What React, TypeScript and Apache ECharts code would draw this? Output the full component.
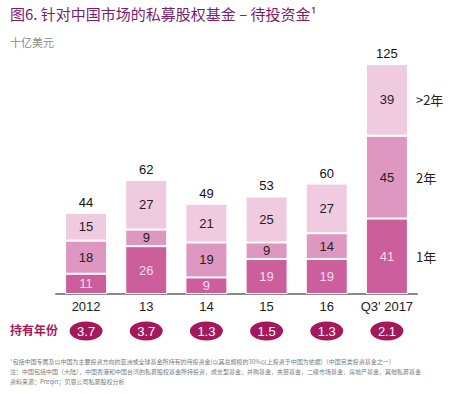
import React, { useEffect, useRef } from "react";
import * as echarts from "echarts";

const categories = ["2012", "13", "14", "15", "16", "Q3' 2017"];
const oneYear = [11, 26, 9, 19, 19, 41];
const twoYear = [18, 9, 19, 9, 14, 45];
const overTwoYear = [15, 27, 21, 25, 27, 39];
const totals = [44, 62, 49, 53, 60, 125];
const holdingYears = ["3.7", "3.7", "1.3", "1.5", "1.3", "2.1"];
const seriesNames = ["1年", "2年", ">2年"];

const title = "图6. 针对中国市场的私募股权基金 – 待投资金¹";
const unit = "十亿美元";
const holdLabel = "持有年份";
const footnotes = [
  "¹包括中国专属及以中国为主要投资方向的亚洲或全球基金所持有的待投资金(以其总规模的30%以上投资于中国为依据)（中国另类投资基金之一）",
  "注：中国包括中国（大陆），中国香港和中国台湾的私募股权基金所持投资，成长型基金，并购基金，夹层基金，二级市场基金，房地产基金，其他私募基金",
  "资料来源：Preqin；贝恩公司私募股权分析",
];

const CJK = "'Noto Sans CJK SC', 'Liberation Sans', sans-serif";
const NUM = "'Liberation Sans', Arial, sans-serif";

export default function App() {
  const ref = useRef<HTMLDivElement>(null);
  useEffect(() => {
    if (!ref.current) return;
    const chart = echarts.init(ref.current, undefined, { renderer: "svg" });
    const colors = ["#cc5f9b", "#de97c0", "#f0cbe0"];
    const segLabel = (color: string) => ({
      show: true,
      position: "inside" as const,
      color,
      fontSize: 13,
      fontFamily: NUM,
    });
    chart.setOption({
      animation: false,
      backgroundColor: "#ffffff",
      grid: [
        { left: 56, right: 39, top: 64, bottom: 100 },
        { left: 56, right: 39, top: 321, height: 20 },
      ],
      xAxis: [
        {
          type: "category",
          data: categories,
          gridIndex: 0,
          axisLine: { lineStyle: { color: "#8a8a8a", width: 2 } },
          axisTick: { show: false },
          axisLabel: { color: "#222", fontSize: 13, fontFamily: NUM, margin: 6, interval: 0 },
        },
        { type: "category", data: categories, gridIndex: 1, show: false },
      ],
      yAxis: [
        { type: "value", min: 0, max: 125, show: false, gridIndex: 0 },
        { type: "value", min: 0, max: 1, show: false, gridIndex: 1 },
      ],
      series: [
        {
          name: seriesNames[0],
          type: "bar",
          stack: "a",
          barWidth: 42,
          data: oneYear,
          itemStyle: { color: colors[0], borderColor: "#fff", borderWidth: 1 },
          label: segLabel("#f7dcea"),
        },
        {
          name: seriesNames[1],
          type: "bar",
          stack: "a",
          data: twoYear,
          itemStyle: { color: colors[1], borderColor: "#fff", borderWidth: 1 },
          label: segLabel("#222"),
        },
        {
          name: seriesNames[2],
          type: "bar",
          stack: "a",
          data: overTwoYear,
          itemStyle: { color: colors[2], borderColor: "#fff", borderWidth: 1 },
          label: segLabel("#222"),
        },
        {
          name: "total",
          type: "bar",
          stack: "a",
          data: totals.map(() => 0),
          itemStyle: { color: "transparent" },
          label: {
            show: true,
            position: "top",
            distance: 4,
            color: "#111",
            fontSize: 13,
            fontFamily: NUM,
            formatter: (p: any) => String(totals[p.dataIndex]),
          },
        },
        {
          type: "scatter",
          xAxisIndex: 1,
          yAxisIndex: 1,
          data: holdingYears.map(() => 0.5),
          symbol: "circle",
          symbolSize: [33, 19],
          itemStyle: { color: "#a3195c", opacity: 1 },
          label: {
            show: true,
            position: "inside",
            color: "#fff",
            fontSize: 13,
            fontFamily: NUM,
            formatter: (p: any) => holdingYears[p.dataIndex],
          },
        },
      ],
    });

    // Right-side segment labels, positioned via the chart's own scales
    const last = categories.length - 1;
    const stacks = [oneYear, twoYear, overTwoYear];
    let base = 0;
    const sideTexts: any[] = [];
    stacks.forEach((arr, i) => {
      const mid = base + arr[last] / 2;
      base += arr[last];
      const pt = chart.convertToPixel({ seriesIndex: 0 }, [last, mid]) as number[];
      sideTexts.push({
        type: "text",
        x: pt[0] + 29,
        y: pt[1],
        style: {
          text: seriesNames[i],
          fill: "#222",
          font: `13px ${CJK}`,
          textVerticalAlign: "middle",
        },
      });
    });

    chart.setOption({
      graphic: [
        {
          type: "text",
          left: 10,
          top: 6,
          style: { text: title, fill: "#7a1d6e", font: `15px ${CJK}` },
        },
        {
          type: "text",
          left: 10,
          top: 36,
          style: { text: unit, fill: "#8a8a8a", font: `11px ${CJK}` },
        },
        {
          type: "text",
          left: 10,
          top: 323,
          style: { text: holdLabel, fill: "#a3195c", font: `bold 12px ${CJK}` },
        },
        ...footnotes.map((t, i) => ({
          type: "text",
          left: 10,
          top: 358 + i * 10,
          style: { text: t, fill: "#7a7a7a", font: `6px ${CJK}` },
        })),
        ...sideTexts,
      ],
    });

    return () => chart.dispose();
  }, []);
  return (
    <div
      ref={ref}
      style={{ position: "fixed", left: 0, top: 0, width: 456, height: 394 }}
    />
  );
}
